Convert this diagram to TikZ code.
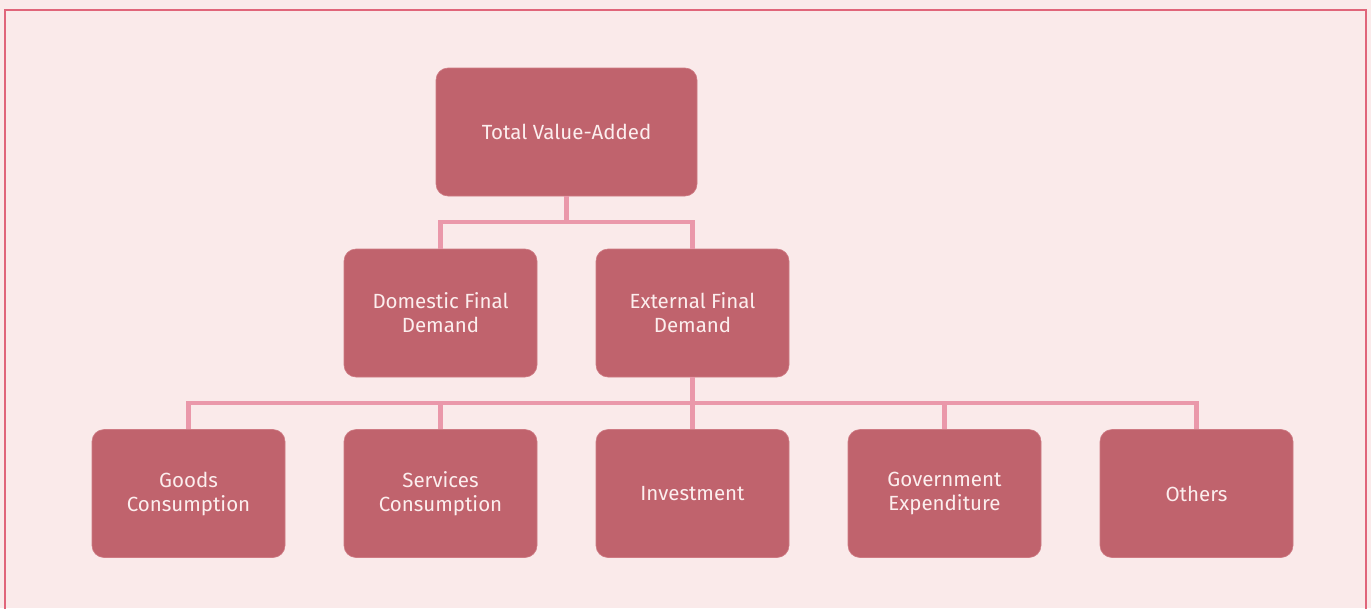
\documentclass[tikz,border=0pt]{standalone}
\usepackage{fontspec}
\setmainfont{Fira Sans}
\definecolor{pagebg}{HTML}{FAEAEA}
\definecolor{frame}{HTML}{E0657A}
\definecolor{boxfill}{HTML}{C0636D}
\definecolor{boxline}{HTML}{CE7A83}
\definecolor{link}{HTML}{EA98AA}
\definecolor{boxtext}{HTML}{FCEEEE}
\begin{document}
\begin{tikzpicture}[x=1pt,y=-1pt,
  catbox/.style={draw=boxline, line width=0.6pt, fill=boxfill, rounded corners=12pt,
    minimum width=193pt, minimum height=128pt, inner sep=0pt,
    align=center, text=boxtext, font=\fontsize{20.5}{24}\selectfont},
  linkline/.style={draw=link, line width=4.5pt}]
  % page background and outer frame
  \fill[pagebg] (0,0) rectangle (1371,608);
  \useasboundingbox (0,0) rectangle (1371,608);
  \draw[frame, line width=2.5pt] (5,620) -- (5,10) -- (1366,10) -- (1366,620);

  % junction points of the two buses
  \coordinate (busA) at (566.5,222);
  \coordinate (busB) at (692.5,403);

  % boxes
  \node[catbox, minimum width=261pt] (total) at (566.5,132) {Total Value-Added};
  \node[catbox] (dom) at (440.5,313) {Domestic Final\\Demand};
  \node[catbox] (ext) at (692.5,313) {External Final\\Demand};
  \node[catbox] (goods) at (188.5,493.5) {Goods\\Consumption};
  \node[catbox] (serv) at (440.5,493.5) {Services\\Consumption};
  \node[catbox] (inv) at (692.5,493.5) {Investment};
  \node[catbox] (gov) at (944.5,493.5) {Government\\Expenditure};
  \node[catbox] (oth) at (1196.5,493.5) {Others};

  % upper tree
  \draw[linkline] (total.south) -- (busA);
  \draw[linkline] (dom.north) |- (busA) -| (ext.north);
  % lower tree
  \draw[linkline] (ext.south) -- (inv.north);
  \draw[linkline] (goods.north) |- (busB) -| (oth.north);
  \draw[linkline] (serv.north) -- (serv.north |- busB);
  \draw[linkline] (gov.north) -- (gov.north |- busB);
\end{tikzpicture}
\end{document}
